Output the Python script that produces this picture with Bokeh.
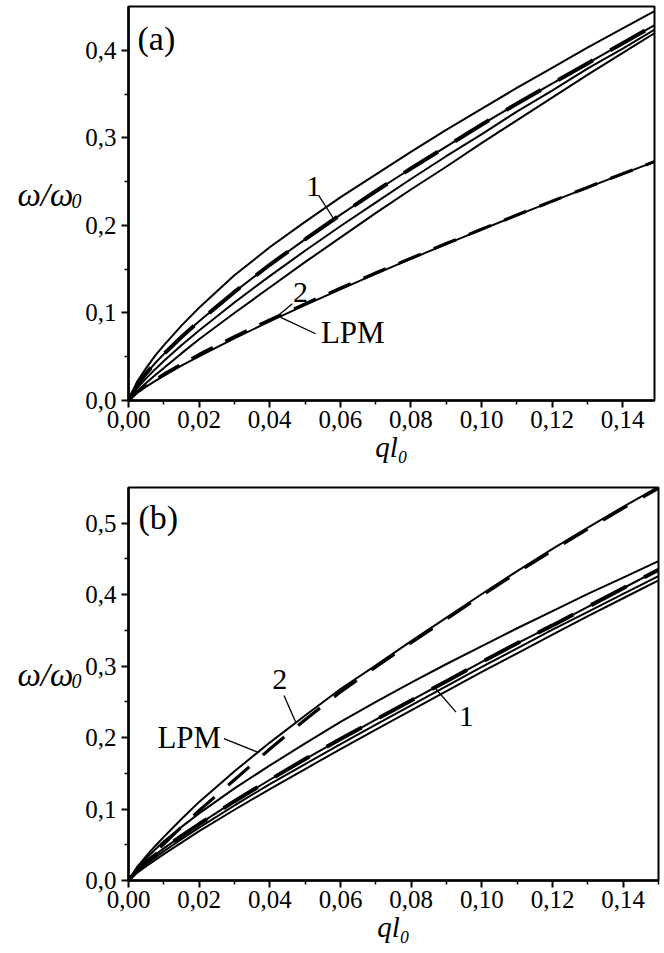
from bokeh.plotting import figure
from bokeh.models import FixedTicker, CustomJSTickFormatter, Label, Range1d
from bokeh.layouts import column, row
from bokeh.core.properties import value
from bokeh.embed import file_html
from bokeh.resources import INLINE

# ---------------- data ----------------
q = [0.0, 0.0025, 0.005, 0.0075, 0.01, 0.015, 0.02, 0.03, 0.04, 0.05, 0.06, 0.07,
     0.08, 0.09, 0.10, 0.11, 0.12, 0.13, 0.14, 0.15]

# panel (a)
a_top = [0, 0.022, 0.037, 0.051, 0.063, 0.0855, 0.106, 0.143, 0.175, 0.204, 0.232, 0.258,
         0.284, 0.309, 0.333, 0.357, 0.380, 0.403, 0.425, 0.447]
a_curve1 = [0, 0.018, 0.031, 0.0425, 0.053, 0.0725, 0.0905, 0.124, 0.155, 0.184, 0.212, 0.239,
            0.265, 0.290, 0.315, 0.339, 0.362, 0.385, 0.408, 0.431]
a_mid = [0, 0.0143, 0.0253, 0.0355, 0.045, 0.0631, 0.080, 0.112, 0.142, 0.171, 0.199, 0.226,
         0.253, 0.279, 0.304, 0.330, 0.354, 0.379, 0.402, 0.426]
a_low = [0, 0.0108, 0.020, 0.0289, 0.037, 0.0538, 0.070, 0.100, 0.129, 0.158, 0.186, 0.214,
         0.241, 0.267, 0.294, 0.320, 0.346, 0.372, 0.397, 0.422]
a_lpm = [0, 0.0088, 0.0158, 0.0221, 0.0282, 0.0397, 0.0505, 0.0710, 0.0903, 0.1089, 0.1270, 0.1446,
         0.1617, 0.1786, 0.1951, 0.2114, 0.2274, 0.2432, 0.2589, 0.2743]
a_curve2 = [0, 0.0098, 0.0172, 0.0236, 0.0300, 0.0414, 0.0525, 0.0730, 0.0920, 0.1103, 0.1282, 0.1456,
            0.1625, 0.1792, 0.1956, 0.2118, 0.2277, 0.2434, 0.2590, 0.2744]

# panel (b)
b_lpm = [0, 0.019, 0.034, 0.048, 0.061, 0.086, 0.110, 0.153, 0.193, 0.231, 0.268, 0.301,
         0.335, 0.368, 0.401, 0.433, 0.464, 0.494, 0.523, 0.551]
b_curve2 = [0, 0.015, 0.028, 0.040, 0.051, 0.075, 0.098, 0.141, 0.184, 0.225, 0.264, 0.299,
            0.333, 0.366, 0.399, 0.431, 0.462, 0.492, 0.521, 0.549]
b_top = [0, 0.019, 0.031, 0.043, 0.055, 0.075, 0.094, 0.129, 0.161, 0.192, 0.222, 0.250,
         0.277, 0.303, 0.328, 0.353, 0.377, 0.401, 0.424, 0.447]
b_curve1 = [0, 0.015, 0.026, 0.0355, 0.045, 0.0625, 0.079, 0.111, 0.141, 0.170, 0.198, 0.225,
            0.252, 0.279, 0.306, 0.332, 0.357, 0.383, 0.409, 0.435]
b_mid = [0, 0.013, 0.023, 0.032, 0.041, 0.058, 0.074, 0.105, 0.135, 0.163, 0.191, 0.218,
         0.245, 0.272, 0.299, 0.325, 0.351, 0.376, 0.401, 0.426]
b_low = [0, 0.011, 0.020, 0.0285, 0.037, 0.053, 0.069, 0.099, 0.128, 0.156, 0.184, 0.211,
         0.238, 0.265, 0.292, 0.318, 0.344, 0.370, 0.395, 0.420]

x_ticks = [0.0, 0.02, 0.04, 0.06, 0.08, 0.10, 0.12, 0.14]
x_minor = [0.01, 0.03, 0.05, 0.07, 0.09, 0.11, 0.13, 0.15]
ya_ticks = [0.0, 0.1, 0.2, 0.3, 0.4]
ya_minor = [0.05, 0.15, 0.25, 0.35]
yb_ticks = [0.0, 0.1, 0.2, 0.3, 0.4, 0.5]
yb_minor = [0.05, 0.15, 0.25, 0.35, 0.45]

SERIF = "Liberation Serif"
LABEL_W = 82


def make_fig(height, xr, yr, right, top, bottom, yt, ym):
    p = figure(width=664 - LABEL_W, height=height, x_range=xr, y_range=yr,
               output_backend="svg", toolbar_location=None,
               min_border_left=128 - LABEL_W, min_border_right=right,
               min_border_top=top, min_border_bottom=bottom)
    p.xgrid.grid_line_color = None
    p.ygrid.grid_line_color = None
    p.outline_line_color = "black"
    p.outline_line_width = 2
    p.background_fill_color = "white"
    p.border_fill_color = "white"
    p.xaxis.ticker = FixedTicker(ticks=x_ticks, minor_ticks=x_minor)
    p.yaxis.ticker = FixedTicker(ticks=yt, minor_ticks=ym)
    p.xaxis.formatter = CustomJSTickFormatter(code="return tick.toFixed(2).replace('.', ',');")
    p.yaxis.formatter = CustomJSTickFormatter(code="return tick.toFixed(1).replace('.', ',');")
    for ax in (p.xaxis, p.yaxis):
        ax.axis_line_width = 2.5
        ax.axis_line_color = "black"
        ax.major_tick_out = 7
        ax.major_tick_in = 0
        ax.minor_tick_out = 4
        ax.minor_tick_in = 0
        ax.major_tick_line_width = 2
        ax.minor_tick_line_width = 1.5
        ax.major_tick_line_color = "black"
        ax.minor_tick_line_color = "black"
        ax.major_label_text_font = SERIF
        ax.major_label_text_font_size = "25px"
        ax.major_label_text_color = "black"
    p.xaxis.major_label_standoff = 3
    p.yaxis.major_label_standoff = 5
    p.xaxis.axis_label = "ql₀"
    p.xaxis.axis_label_text_font = SERIF
    p.xaxis.axis_label_text_font_size = "29px"
    p.xaxis.axis_label_text_font_style = "italic"
    p.xaxis.axis_label_text_color = "black"
    p.xaxis.axis_label_standoff = 0
    return p


def label_fig(height, y_mid):
    f = figure(width=LABEL_W, height=height, x_range=Range1d(0, LABEL_W),
               y_range=Range1d(height, 0), output_backend="svg", toolbar_location=None,
               x_axis_location=None, y_axis_location=None, min_border=0)
    f.xgrid.grid_line_color = None
    f.ygrid.grid_line_color = None
    f.outline_line_color = None
    f.background_fill_color = "white"
    f.border_fill_color = "white"
    f.text(x=[17], y=[y_mid], text=["ω/ω"], text_font=value(SERIF), text_font_size="33px",
           text_font_style="italic", text_baseline="middle", text_align="left", text_color="black")
    f.text(x=[71], y=[y_mid + 7], text=["0"], text_font=value(SERIF), text_font_size="20px",
           text_font_style="italic", text_baseline="middle", text_align="left", text_color="black")
    return f


def add_label(p, x, y, text, size, align="left"):
    p.add_layout(Label(x=x, y=y, text=text, text_font=SERIF, text_font_size=size,
                       text_align=align, text_baseline="middle", text_color="black"))


# ---------------- panel (a) ----------------
HA = 475
pa = make_fig(HA, (0, 0.149), (0, 0.45), 10, 6, 75, ya_ticks, ya_minor)
for ys in (a_top, a_mid, a_low, a_curve1, a_lpm):
    pa.line(q, ys, line_color="black", line_width=2)
pa.line(q, a_curve1, line_color="black", line_width=4, line_dash="40 20")
pa.line(q, a_curve2, line_color="black", line_width=3.2, line_dash="24 14")

# leader lines (a)
pa.line([0.0539, 0.0582], [0.234, 0.207], line_color="black", line_width=1.3)
pa.line([0.0464, 0.0412], [0.1105, 0.093], line_color="black", line_width=1.3)
pa.line([0.0431, 0.0530], [0.095, 0.0762], line_color="black", line_width=1.3)

add_label(pa, 0.00255, 0.4137, "(a)", "34px")
add_label(pa, 0.0524, 0.2446, "1", "30px", align="center")
add_label(pa, 0.0487, 0.1234, "2", "30px", align="center")
add_label(pa, 0.0545, 0.0777, "LPM", "31px")

la = label_fig(HA, 227)

# ---------------- panel (b) ----------------
HB = 953 - HA
pb = make_fig(HB, (0, 0.15), (0, 0.55), 6, 487 - HA, 73, yb_ticks, yb_minor)
for ys in (b_lpm, b_top, b_mid, b_low, b_curve1):
    pb.line(q, ys, line_color="black", line_width=2)
pb.line(q, b_curve1, line_color="black", line_width=4, line_dash="40 20")
pb.line(q, b_curve2, line_color="black", line_width=3.2, line_dash="28 18")

# leader lines (b)
pb.line([0.0870, 0.0927], [0.268, 0.2357], line_color="black", line_width=1.3)
pb.line([0.0440, 0.0473], [0.259, 0.2217], line_color="black", line_width=1.3)
pb.line([0.0270, 0.0364], [0.1985, 0.180], line_color="black", line_width=1.3)

add_label(pb, 0.00284, 0.5084, "(b)", "34px")
add_label(pb, 0.0956, 0.2297, "1", "30px", align="center")
add_label(pb, 0.0428, 0.2815, "2", "30px", align="center")
add_label(pb, 0.0172, 0.1996, "LPM", "31px", align="center")

lb = label_fig(HB, 703 - HA)

layout = column(row(la, pa), row(lb, pb))
open("out.html", "w").write(file_html(layout, INLINE))
